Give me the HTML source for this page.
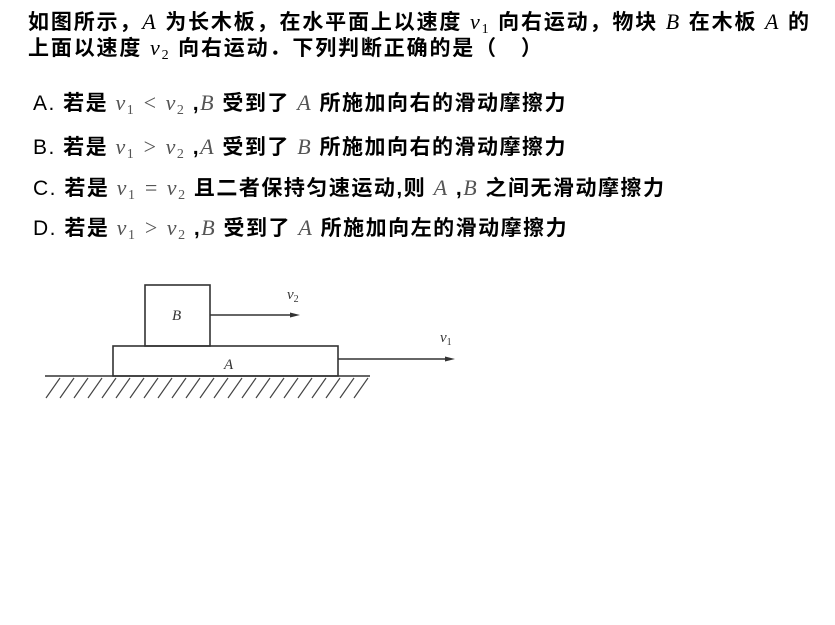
<!DOCTYPE html>
<html><head><meta charset="utf-8"><style>
body{margin:0;width:835px;height:625px;background:#fff;position:relative;overflow:hidden;font-family:"Liberation Sans","Noto Sans CJK SC",sans-serif;color:#000}
.t{position:absolute;left:28px;font-size:21px;white-space:nowrap;font-weight:bold;line-height:1;letter-spacing:1.5px}
.m{font-family:"Liberation Serif",serif;font-style:italic;font-weight:normal;font-size:22px}
.g{color:#555}
sub{font-size:14px;font-style:normal;vertical-align:-4px}
</style></head><body>
<div class="t" style="top:11px;letter-spacing:1.85px">如图所示，<span class="m">A</span> 为长木板，在水平面上以速度 <span class="m">v<sub>1</sub></span> 向右运动，物块 <span class="m">B</span> 在木板 <span class="m">A</span> 的</div>
<div class="t" style="top:37px;letter-spacing:1.85px">上面以速度 <span class="m">v<sub>2</sub></span> 向右运动．下列判断正确的是（　）</div>
<div class="t" style="top:92px;left:33px"><span style="font-weight:normal">A.</span> 若是 <span class="m g">v<sub>1</sub> &lt; v<sub>2</sub></span> ,<span class="m g">B</span> 受到了 <span class="m g">A</span> 所施加向右的滑动摩擦力</div>
<div class="t" style="top:136px;left:33px"><span style="font-weight:normal">B.</span> 若是 <span class="m g">v<sub>1</sub> &gt; v<sub>2</sub></span> ,<span class="m g">A</span> 受到了 <span class="m g">B</span> 所施加向右的滑动摩擦力</div>
<div class="t" style="top:177px;left:33px"><span style="font-weight:normal">C.</span> 若是 <span class="m g">v<sub>1</sub> = v<sub>2</sub></span> 且二者保持匀速运动,则 <span class="m g">A</span> ,<span class="m g">B</span> 之间无滑动摩擦力</div>
<div class="t" style="top:217px;left:33px"><span style="font-weight:normal">D.</span> 若是 <span class="m g">v<sub>1</sub> &gt; v<sub>2</sub></span> ,<span class="m g">B</span> 受到了 <span class="m g">A</span> 所施加向左的滑动摩擦力</div>
<svg width="835" height="625" style="position:absolute;left:0;top:0" font-family="Liberation Serif,serif" font-style="italic">
<g stroke="#333" stroke-width="1.6" fill="none">
<rect x="145" y="285" width="65" height="61"/>
<rect x="113" y="346" width="225" height="30"/>
<line x1="45" y1="376" x2="370" y2="376"/>
<line x1="210" y1="315" x2="295" y2="315"/>
<line x1="338" y1="359" x2="450" y2="359"/>
</g>
<polygon points="300,315 290,312.5 290,317.5" fill="#333"/>
<polygon points="455,359 445,356.5 445,361.5" fill="#333"/>
<g stroke="#444" stroke-width="1.2">
<line x1="60" y1="378" x2="46" y2="398"/><line x1="74" y1="378" x2="60" y2="398"/><line x1="88" y1="378" x2="74" y2="398"/><line x1="102" y1="378" x2="88" y2="398"/><line x1="116" y1="378" x2="102" y2="398"/><line x1="130" y1="378" x2="116" y2="398"/><line x1="144" y1="378" x2="130" y2="398"/><line x1="158" y1="378" x2="144" y2="398"/><line x1="172" y1="378" x2="158" y2="398"/><line x1="186" y1="378" x2="172" y2="398"/><line x1="200" y1="378" x2="186" y2="398"/><line x1="214" y1="378" x2="200" y2="398"/><line x1="228" y1="378" x2="214" y2="398"/><line x1="242" y1="378" x2="228" y2="398"/><line x1="256" y1="378" x2="242" y2="398"/><line x1="270" y1="378" x2="256" y2="398"/><line x1="284" y1="378" x2="270" y2="398"/><line x1="298" y1="378" x2="284" y2="398"/><line x1="312" y1="378" x2="298" y2="398"/><line x1="326" y1="378" x2="312" y2="398"/><line x1="340" y1="378" x2="326" y2="398"/><line x1="354" y1="378" x2="340" y2="398"/><line x1="368" y1="378" x2="354" y2="398"/>
</g>
<text x="172" y="320" font-size="15" fill="#333">B</text>
<text x="224" y="369" font-size="15" fill="#333">A</text>
<text x="287" y="299" font-size="15" fill="#333">v<tspan font-size="10" dy="3" font-style="normal">2</tspan></text>
<text x="440" y="342" font-size="15" fill="#333">v<tspan font-size="10" dy="3" font-style="normal">1</tspan></text>
</svg>
</body></html>
